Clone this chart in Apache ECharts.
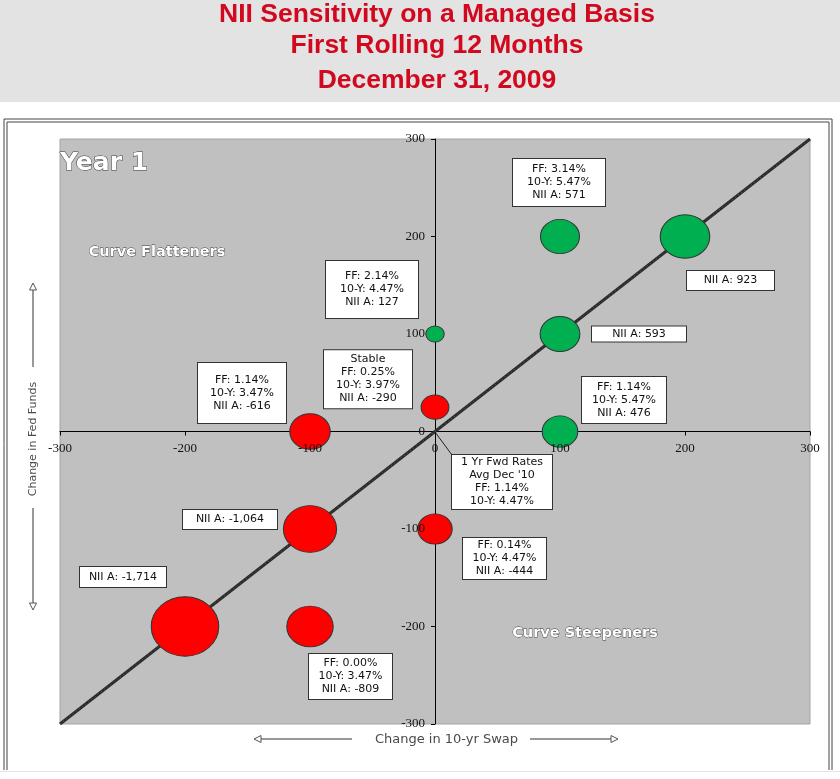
<!DOCTYPE html>
<html><head><meta charset="utf-8">
<script src="https://cdn.jsdelivr.net/npm/echarts@6/dist/echarts.min.js"></script>
<style>html,body{margin:0;padding:0;background:#fff;}#chart{width:840px;height:779px;}</style>
</head><body><div id="chart"></div>
<script>
// ---- data ----
const titleLines = ['NII Sensitivity on a Managed Basis', 'First Rolling 12 Months', 'December 31, 2009'];
const axisTicks = [-300, -200, -100, 0, 100, 200, 300];
const swapChange = [100, 200, 100, 0, 100, 0, -100, -100, -200, -100, 0];
const fedFundsChange = [200, 200, 100, 100, 0, 25, 0, -100, -200, -200, -100];
const niiChange = [571, 923, 593, 127, 476, -290, -616, -1064, -1714, -809, -444];
const ffRate = ['3.14%', null, null, '2.14%', '1.14%', '0.25%', '1.14%', null, null, '0.00%', '0.14%'];
const tenYRate = ['5.47%', null, null, '4.47%', '5.47%', '3.97%', '3.47%', null, null, '3.47%', '4.47%'];
const scenarioName = [null, null, null, null, null, 'Stable', null, null, null, null, null];
const forwardPoint = [0, 0];
const forwardText = ['1 Yr Fwd Rates', "Avg Dec '10", 'FF: 1.14%', '10-Y: 4.47%'];
const diagonal = [[-300, -300], [300, 300]];
const quadrantNames = ['Year 1', 'Curve Flatteners', 'Curve Steepeners'];
const axisNames = ['Change in 10-yr Swap', 'Change in Fed Funds'];

// ---- layout (pixel offsets of callouts from bubble centres, box sizes) ----
const calloutLayout = [
  [-1, -54, 92, 47], [45.5, 44, 87, 19], [79, 0, 94, 15], [-63, -44.5, 92, 57],
  [64, -31.5, 84, 46], [-67, -28, 88, 58], [-68, -38.5, 88, 60], [-80, -9.5, 94, 19],
  [-62, -49.5, 86, 20], [40.5, 50, 83, 45], [69.5, 29.5, 83, 41]
];
const GRID = { left: 60, top: 139, width: 750, height: 585 };
const LH = 13;
const ELLIPSE = 'path://M0,50A50,50,0,1,1,100,50A50,50,0,1,1,0,50Z';

function calloutText(i) {
  const lines = [];
  if (scenarioName[i]) lines.push(scenarioName[i]);
  if (ffRate[i]) lines.push('FF: ' + ffRate[i]);
  if (tenYRate[i]) lines.push('10-Y: ' + tenYRate[i]);
  lines.push('NII A: ' + niiChange[i].toLocaleString('en-US'));
  return lines.join('\n');
}

const boxLabel = {
  show: true, position: 'inside', backgroundColor: '#fff', borderColor: '#333', borderWidth: 1,
  fontFamily: 'DejaVu Sans', fontSize: 11, color: '#111', lineHeight: LH, align: 'center'
};

const bubbleData = swapChange.map((x, i) => {
  const [dx, dy, w, h] = calloutLayout[i];
  const txt = calloutText(i);
  const n = txt.split('\n').length;
  return {
    value: [x, fedFundsChange[i], niiChange[i]],
    itemStyle: { color: niiChange[i] >= 0 ? '#00b050' : '#ff0000' },
    label: Object.assign({}, boxLabel, {
      formatter: txt, offset: [dx, dy], width: w, padding: [Math.max(0, (h - n * LH) / 2), 0]
    })
  };
});

const chart = echarts.init(document.getElementById('chart'), null, { renderer: 'canvas' });

const axMin = axisTicks[0], axMax = axisTicks[axisTicks.length - 1];
const zeroFrac = (0 - axMin) / (axMax - axMin);
const axisBase = {
  type: 'value', min: axMin, max: axMax, interval: axisTicks[1] - axisTicks[0],
  splitLine: { show: false }
};
// axis lines + ticks (beneath the bubbles)
const lineAxis = Object.assign({}, axisBase, {
  z: 0,
  axisLine: { show: true, onZero: false, lineStyle: { color: '#000', width: 1 } },
  axisTick: { show: true, length: 4, lineStyle: { color: '#000' } },
  axisLabel: { show: false }
});
// tick labels (above the bubbles)
const labelAxis = Object.assign({}, axisBase, {
  z: 10,
  axisLine: { show: false, onZero: false },
  axisTick: { show: false },
  axisLabel: { show: true, fontFamily: 'Liberation Serif', fontSize: 13, color: '#111' }
});

function txt(x, y, text, font, extra) {
  return Object.assign({
    type: 'text', x: x, y: y, z: 50,
    style: Object.assign({ text: text, font: font, fill: '#555', align: 'center', verticalAlign: 'middle',
      textAlign: 'center', textVerticalAlign: 'middle' }, (extra && extra.style) || {})
  }, extra && extra.rotation ? { rotation: extra.rotation } : {});
}
function line(points, color) {
  return { type: 'polyline', z: 50, shape: { points: points }, style: { stroke: color || '#444', lineWidth: 1, fill: null } };
}
function arrowHead(points) {
  return { type: 'polygon', z: 50, shape: { points: points }, style: { stroke: '#555', lineWidth: 1, fill: '#fff' } };
}

const xOff = -GRID.height * zeroFrac, yOff = -GRID.width * zeroFrac;
const option = {
  animation: false,
  backgroundColor: '#fff',
  grid: Object.assign({ show: true, backgroundColor: '#c0c0c0', borderColor: '#a4a4a4', borderWidth: 1 }, GRID),
  xAxis: [
    Object.assign({}, lineAxis, { position: 'bottom', offset: xOff }),
    Object.assign({}, labelAxis, { position: 'bottom', offset: xOff,
      axisLabel: Object.assign({}, labelAxis.axisLabel, { margin: 11 }) })
  ],
  yAxis: [
    Object.assign({}, lineAxis, { position: 'left', offset: yOff }),
    Object.assign({}, labelAxis, { position: 'left', offset: yOff,
      axisLabel: Object.assign({}, labelAxis.axisLabel, { margin: 10 }) })
  ],
  series: [
    {
      type: 'line', data: diagonal, symbol: 'none', z: 2, silent: true,
      lineStyle: { color: '#2b2b2b', width: 3 }
    },
    {
      type: 'line', data: diagonal, symbol: 'none', z: 2, silent: true,
      lineStyle: { color: '#6b5e52', width: 1, type: [1, 3] }
    },
    {
      type: 'scatter', z: 4, symbol: ELLIPSE,
      symbolSize: function (val) { const w = 1.63 * Math.sqrt(Math.abs(val[2])); return [w, w * 0.88]; },
      itemStyle: { borderColor: '#333', borderWidth: 1, opacity: 1 },
      data: bubbleData
    },
    {
      type: 'scatter', z: 5, symbolSize: 0, itemStyle: { color: '#333', opacity: 1 },
      data: [{ value: forwardPoint }],
      label: Object.assign({}, boxLabel, { formatter: forwardText.join('\n'), width: 100, padding: [1, 0], offset: [67, 50.5] })
    }
  ],
  graphic: [
    { type: 'rect', z: -10, shape: { x: 0, y: 0, width: 840, height: 102 }, style: { fill: '#e3e3e3' } },
    txt(437, 15, titleLines[0], 'bold 26.5px "Liberation Sans", Arial', { style: { fill: '#d2081e' } }),
    txt(437, 46, titleLines[1], 'bold 26.5px "Liberation Sans", Arial', { style: { fill: '#d2081e' } }),
    txt(437, 81, titleLines[2], 'bold 26.5px "Liberation Sans", Arial', { style: { fill: '#d2081e' } }),
    line([[4, 770], [4, 119], [832, 119], [832, 770]], '#444'),
    line([[7, 770], [7, 122], [829, 122], [829, 770]], '#444'),
    line([[0, 771.5], [840, 771.5]], '#e4e4e4'),
    { type: 'polyline', z: 50, shape: { points: [[435, 432], [452, 455]] }, style: { stroke: '#222', lineWidth: 1, fill: null } },
    { type: 'text', x: 60, y: 163, z: 50,
      style: { text: quadrantNames[0], font: 'bold 25px "DejaVu Sans"', fill: '#fff', stroke: '#3a3a3a', lineWidth: 1,
        align: 'left', verticalAlign: 'middle', textAlign: 'left', textVerticalAlign: 'middle' } },
    txt(157, 252, quadrantNames[1], 'bold 14.5px "DejaVu Sans"', { style: { fill: '#fff', stroke: '#3a3a3a', lineWidth: 0.8 } }),
    txt(585, 633, quadrantNames[2], 'bold 14.5px "DejaVu Sans"', { style: { fill: '#fff', stroke: '#3a3a3a', lineWidth: 0.8 } }),
    txt(446.5, 740, axisNames[0], '13px "DejaVu Sans"', { style: { fill: '#4a4a4a' } }),
    txt(33, 439, axisNames[1], '11px "DejaVu Sans"', { rotation: Math.PI / 2, style: { fill: '#4a4a4a' } }),
    line([[261, 739], [352, 739]], '#333'),
    line([[530, 739], [611, 739]], '#333'),
    arrowHead([[254, 739], [261, 735.5], [261, 742.5]]),
    arrowHead([[618, 739], [611, 735.5], [611, 742.5]]),
    line([[33, 290], [33, 367]], '#333'),
    line([[33, 508], [33, 603]], '#333'),
    arrowHead([[33, 283], [29.5, 290], [36.5, 290]]),
    arrowHead([[33, 610], [29.5, 603], [36.5, 603]])
  ]
};
chart.setOption(option);
</script></body></html>
